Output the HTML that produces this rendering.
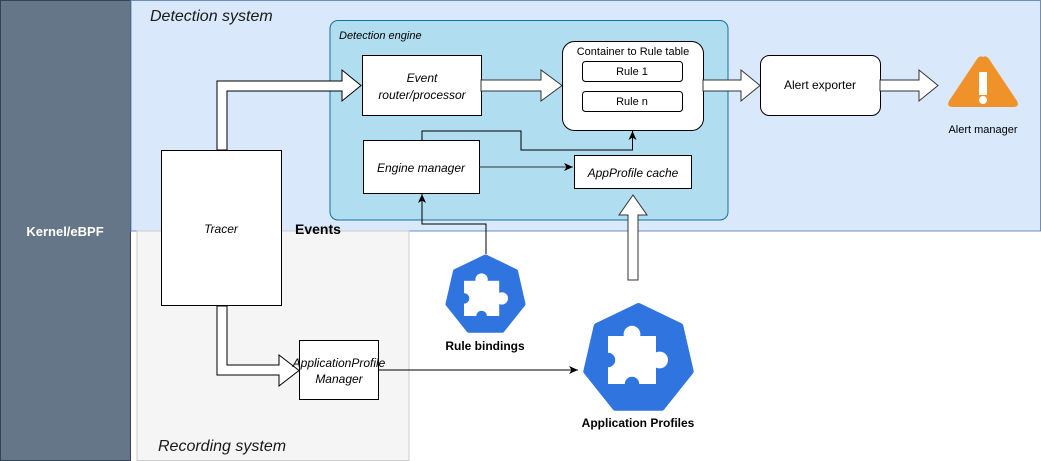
<!DOCTYPE html>
<html><head><meta charset="utf-8"><style>
html,body{margin:0;padding:0;background:#fff;}
svg{display:block;font-family:"Liberation Sans",Arial,sans-serif;}
</style></head><body>
<svg width="1041" height="461" viewBox="0 0 1041 461" xmlns="http://www.w3.org/2000/svg">
<defs>
<marker id="ah" markerWidth="10" markerHeight="10" refX="9" refY="5" orient="auto" markerUnits="userSpaceOnUse">
<path d="M0,1 L9,5 L0,9 L2.5,5 Z" fill="#000"/></marker>
<g id="puz">
<rect x="0" y="0.2" width="0.8" height="0.8" fill="#fff"/>
<circle cx="0.4" cy="0.17" r="0.14" fill="#fff"/>
<circle cx="0.86" cy="0.6" r="0.14" fill="#fff"/>
<circle cx="0" cy="0.6" r="0.12" fill="#2f74df"/>
<circle cx="0.4" cy="1.0" r="0.12" fill="#2f74df"/>
</g>
</defs>
<rect x="0.5" y="0.5" width="130" height="460" fill="#647687" stroke="#314354"/>
<text x="65" y="236" text-anchor="middle" fill="#fff" font-weight="bold" font-size="13">Kernel/eBPF</text>
<rect x="131" y="0.5" width="909.5" height="230.5" fill="#dae8fc" stroke="#6c8ebf"/>
<text x="150" y="21" font-style="italic" font-size="16" fill="#1a1a1a">Detection system</text>
<rect x="137" y="231" width="272" height="229.5" fill="#f5f5f5" stroke="#ccc"/>
<text x="158" y="451" font-style="italic" font-size="16" fill="#1a1a1a">Recording system</text>
<rect x="330" y="20.5" width="398" height="199.5" rx="8" fill="#b1ddf0" stroke="#10739e"/>
<text x="339" y="39" font-style="italic" font-size="11">Detection engine</text>

<rect x="161.5" y="150.5" width="120" height="155" fill="#fff" stroke="#000"/>
<text x="221" y="233" text-anchor="middle" font-style="italic" font-size="12">Tracer</text>
<text x="295" y="234" font-weight="bold" font-size="14">Events</text>

<polygon points="217,150 217,81 342,81 342,70 361,85.5 342,101 342,91 227,91 227,150" fill="#fff" stroke="#000"/>
<polygon points="217,306 217,375 279,375 279,386 299,370.5 279,355 279,365 227,365 227,306" fill="#fff" stroke="#000"/>

<rect x="362.5" y="55.5" width="119" height="60" fill="#fff" stroke="#000"/>
<text x="422" y="82" text-anchor="middle" font-style="italic" font-size="12">Event</text>
<text x="422" y="99" text-anchor="middle" font-style="italic" font-size="12">router/processor</text>

<polygon points="481,80 541,80 541,70 562,85.5 541,101 541,91 481,91" fill="#fff" stroke="#333"/>

<rect x="562.5" y="41.5" width="141" height="89" rx="12" fill="#fff" stroke="#000"/>
<text x="633" y="55" text-anchor="middle" font-size="11">Container to Rule table</text>
<rect x="582.5" y="61.5" width="100" height="20" rx="3" fill="#fff" stroke="#000"/>
<text x="632" y="75" text-anchor="middle" font-size="11">Rule 1</text>
<rect x="582.5" y="91.5" width="100" height="20" rx="3" fill="#fff" stroke="#000"/>
<text x="632" y="105" text-anchor="middle" font-size="11">Rule n</text>

<polygon points="703,80 741,80 741,70 760,85.5 741,101 741,91 703,91" fill="#fff" stroke="#333"/>
<rect x="760.5" y="55.5" width="120" height="60" rx="9" fill="#fff" stroke="#000"/>
<text x="820" y="89" text-anchor="middle" font-size="12">Alert exporter</text>
<polygon points="880,80 919,80 919,70 938,85.5 919,101 919,91 880,91" fill="#fff" stroke="#333"/>

<path d="M983,57 Q980,55 977,59 L949,101 Q946,107 953,107 L1013,107 Q1020,107 1017,101 L989,59 Q986,55 983,57 Z" fill="#ef9229"/>
<rect x="979" y="72" width="8" height="23" fill="#fff"/>
<circle cx="983" cy="100" r="4" fill="#fff"/>
<text x="983" y="133" text-anchor="middle" font-size="11">Alert manager</text>

<rect x="363.5" y="140.5" width="116" height="53" fill="#fff" stroke="#000"/>
<text x="421" y="172" text-anchor="middle" font-style="italic" font-size="12">Engine manager</text>
<rect x="574.5" y="155.5" width="117" height="33" fill="#fff" stroke="#000"/>
<text x="633" y="177" text-anchor="middle" font-style="italic" font-size="12">AppProfile cache</text>

<line x1="479" y1="167" x2="573" y2="167" stroke="#333" marker-end="url(#ah)"/>
<polyline points="422,140 422,131 521,131 521,150 632.5,150 632.5,131" fill="none" stroke="#000" marker-end="url(#ah)"/>
<polyline points="486,254 486,224 422,224 422,194" fill="none" stroke="#000" marker-end="url(#ah)"/>

<polygon points="628,280 628,215 619,215 633,195 647,215 638,215 638,280" fill="#fff" stroke="#333"/>

<rect x="299.5" y="340.5" width="79" height="59" fill="#fff" stroke="#000"/>
<text x="339" y="367" text-anchor="middle" font-style="italic" font-size="12">ApplicationProfile</text>
<text x="339" y="383" text-anchor="middle" font-style="italic" font-size="12">Manager</text>
<line x1="379" y1="370" x2="578" y2="370" stroke="#000" marker-end="url(#ah)"/>

<polygon points="485.5,257 515.6,271.5 523,304.1 502.2,330.2 468.8,330.2 448,304.1 455.4,271.5" fill="#2f74df" stroke="#2f74df" stroke-width="5" stroke-linejoin="round"/>
<g transform="translate(464,272) scale(44)"><use href="#puz"/></g>
<text x="485" y="350" text-anchor="middle" font-weight="bold" font-size="12">Rule bindings</text>

<polygon points="638.5,306 680.3,326.1 690.7,371.4 661.7,407.7 615.3,407.7 586.3,371.4 596.7,326.1" fill="#2f74df" stroke="#2f74df" stroke-width="6" stroke-linejoin="round"/>
<g transform="translate(608,324) scale(60)"><use href="#puz"/></g>
<text x="638" y="427" text-anchor="middle" font-weight="bold" font-size="12">Application Profiles</text>
</svg>
</body></html>
